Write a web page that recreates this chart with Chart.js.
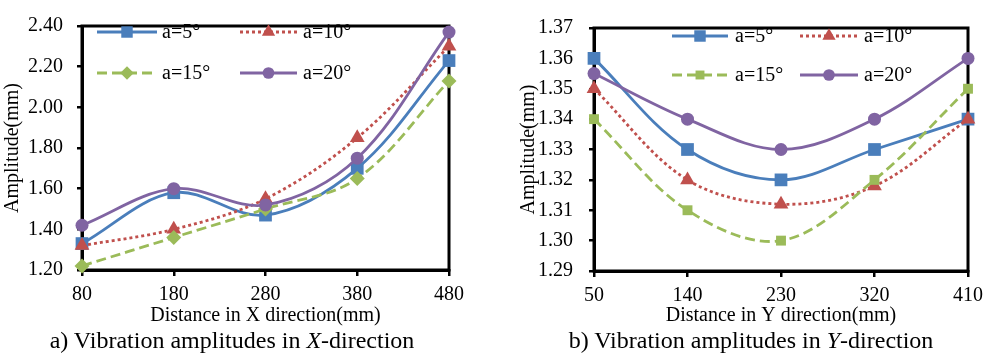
<!DOCTYPE html>
<html>
<head>
<meta charset="utf-8">
<script src="https://cdn.jsdelivr.net/npm/chart.js@4.4.1/dist/chart.umd.min.js"></script>
<style>
  body { margin: 0; background: #fff; width: 991px; height: 353px; overflow: hidden; position: relative; font-family: "Liberation Serif", serif; }
  .box { position: absolute; top: 0; height: 330px; }
  #boxX { left: 0; width: 495px; }
  #boxY { left: 495px; width: 496px; }
  .cap { position: absolute; top: 328px; font-size: 24px; line-height: 24px; white-space: nowrap; transform: translateX(-50%); color: #000; }
</style>
</head>
<body>
<div class="box" id="boxX"><canvas id="chartX"></canvas></div>
<div class="box" id="boxY"><canvas id="chartY"></canvas></div>
<div class="cap" style="left:232px">a) Vibration amplitudes in <i>X</i>-direction</div>
<div class="cap" style="left:751px">b) Vibration amplitudes in <i>Y</i>-direction</div>

<script>
// categories
const xDist = ["80", "180", "280", "380", "480"];
const yDist = ["50", "140", "230", "320", "410"];
const names = ["a=5°", "a=10°", "a=15°", "a=20°"];

// X-direction amplitudes (mm)
const xA5  = [1.33, 1.58, 1.47, 1.70, 2.23];
const xA10 = [1.32, 1.40, 1.55, 1.85, 2.30];
const xA15 = [1.22, 1.36, 1.50, 1.65, 2.13];
const xA20 = [1.42, 1.60, 1.52, 1.75, 2.37];

// Y-direction amplitudes (mm)
const yA5  = [1.36, 1.33, 1.32, 1.33, 1.34];
const yA10 = [1.35, 1.32, 1.312, 1.318, 1.34];
const yA15 = [1.34, 1.31, 1.30, 1.32, 1.35];
const yA20 = [1.355, 1.34, 1.33, 1.34, 1.36];

// value axis ranges: min, max, step
const xAxisRange = [1.20, 2.40, 0.20];
const yAxisRange = [1.29, 1.37, 0.01];

Chart.defaults.font.family = '"Liberation Serif", "Times New Roman", serif';
Chart.defaults.color = "#000";

const colors = ["#4A7EBB", "#C0504D", "#9BBB59", "#8064A2"];
const dashes = [[], [3, 3], [10, 5], []];

function makeSets(values, styles, radii) {
  return values.map((v, i) => ({
    label: names[i],
    data: v,
    borderColor: colors[i],
    backgroundColor: colors[i],
    pointBackgroundColor: colors[i],
    pointBorderWidth: 0,
    borderWidth: 2.8,
    borderDash: dashes[i],
    pointStyle: styles[i],
    pointRadius: radii[i],
    pointHoverRadius: radii[i],
    tension: 0.35,
    clip: false,
    order: 3 - i
  }));
}

// legend drawn inside the plot, two rows by two columns
const boxLegend = {
  id: "boxLegend",
  afterDatasetsDraw(chart, args, opts) {
    const ctx = chart.ctx;
    ctx.save();
    chart.data.datasets.forEach((ds, i) => {
      const p = opts.items[i];
      ctx.strokeStyle = ds.borderColor;
      ctx.lineWidth = ds.borderWidth;
      ctx.setLineDash(ds.borderDash);
      ctx.beginPath();
      ctx.moveTo(p.x1, p.y);
      ctx.lineTo(p.x2, p.y);
      ctx.stroke();
      ctx.setLineDash([]);
      ctx.fillStyle = ds.borderColor;
      Chart.helpers.drawPoint(ctx, { pointStyle: ds.pointStyle, radius: ds.pointRadius * 0.9, rotation: 0, borderWidth: 0 }, (p.x1 + p.x2) / 2, p.y);
      ctx.fillStyle = "#000";
      ctx.font = '20px "Liberation Serif"';
      ctx.textBaseline = "middle";
      ctx.textAlign = "left";
      ctx.fillText(ds.label, p.tx, p.y + 1);
    });
    ctx.restore();
  }
};

// closed black frame round the plot
const frame = {
  id: "frame",
  beforeDatasetsDraw(chart) {
    const { ctx, chartArea: a } = chart;
    ctx.save();
    ctx.strokeStyle = "#000";
    ctx.lineWidth = 3;
    ctx.strokeRect(a.left, a.top, a.right - a.left, a.bottom - a.top);
    ctx.restore();
  }
};

function makeChart(id, labels, sets, range, cfg) {
  return new Chart(document.getElementById(id), {
    type: "line",
    data: { labels, datasets: sets },
    plugins: [frame, boxLegend],
    options: {
      responsive: true,
      maintainAspectRatio: false,
      animation: false,
      layout: { padding: cfg.padding },
      plugins: {
        legend: { display: false },
        tooltip: { enabled: false },
        boxLegend: { items: cfg.legend }
      },
      scales: {
        x: {
          grid: { drawOnChartArea: false, drawTicks: true, tickLength: 6, color: "#000", lineWidth: 2.5 },
          border: { color: "#000", width: 3 },
          ticks: { font: { size: 20 }, padding: 7, maxRotation: 0 },
          title: { display: true, text: cfg.xTitle, font: { size: 20 }, padding: { top: 0, bottom: 2 } },
          afterFit: s => { s.height = cfg.xHeight; }
        },
        y: {
          min: range[0],
          max: range[1],
          grid: { drawOnChartArea: false, drawTicks: true, tickLength: 5, color: "#000", lineWidth: 2.5 },
          border: { color: "#000", width: 3 },
          ticks: { stepSize: range[2], font: { size: 20 }, padding: cfg.yPad, callback: v => Number(v).toFixed(2) },
          title: { display: true, text: "Amplitude(mm)", font: { size: 20 }, padding: { top: cfg.yTitlePad, bottom: 0 } },
          afterFit: s => { s.width = cfg.yWidth; }
        }
      }
    }
  });
}

makeChart("chartX", xDist,
  makeSets([xA5, xA10, xA15, xA20], ["rect", "triangle", "rectRot", "circle"], [9, 8.5, 7.5, 6.5]),
  xAxisRange,
  {
    padding: { top: 15, right: 46, left: 0, bottom: 0 },
    xHeight: 60, yWidth: 82, yPad: 14, yTitlePad: 1,
    xTitle: "Distance in X direction(mm)",
    legend: [
      { x1: 97, x2: 157, tx: 162, y: 32 },
      { x1: 240, x2: 297, tx: 303, y: 32 },
      { x1: 97, x2: 157, tx: 162, y: 73 },
      { x1: 240, x2: 297, tx: 303, y: 73 }
    ]
  });

makeChart("chartY", yDist,
  makeSets([yA5, yA10, yA15, yA20], ["rect", "triangle", "rect", "circle"], [9, 8.5, 7, 6.5]),
  yAxisRange,
  {
    padding: { top: 16, right: 23, left: 0, bottom: 0 },
    xHeight: 59, yWidth: 99, yPad: 16, yTitlePad: 22,
    xTitle: "Distance in Y direction(mm)",
    legend: [
      { x1: 177, x2: 233, tx: 240, y: 36 },
      { x1: 305, x2: 363, tx: 369, y: 36 },
      { x1: 177, x2: 233, tx: 240, y: 75 },
      { x1: 305, x2: 363, tx: 369, y: 75 }
    ]
  });
</script>
</body>
</html>
